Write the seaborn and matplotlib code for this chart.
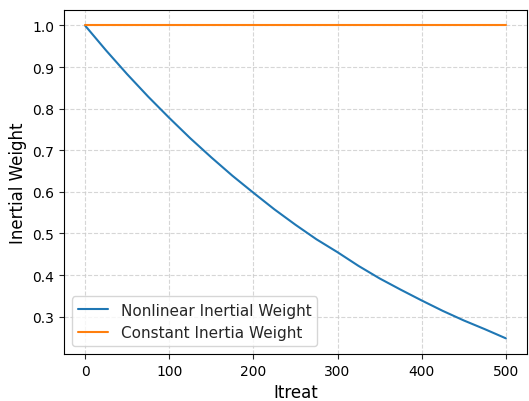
import pandas as pd
import matplotlib
matplotlib.use("Agg")
import matplotlib.pyplot as plt
import seaborn as sns

# valores (cada 25 iteraciones)
iteraciones = [0, 25, 50, 75, 100, 125, 150, 175, 200, 225, 250,
               275, 300, 325, 350, 375, 400, 425, 450, 475, 500]
peso_no_lineal = [1.000, 0.940, 0.883, 0.829, 0.778, 0.729, 0.683, 0.639, 0.598, 0.558, 0.521,
                  0.486, 0.455, 0.422, 0.392, 0.365, 0.339, 0.314, 0.291, 0.270, 0.248]
peso_constante = [1.0] * len(iteraciones)

df = pd.DataFrame({
    "Itreat": iteraciones * 2,
    "Inertial Weight": peso_no_lineal + peso_constante,
    "Serie": ["Nonlinear Inertial Weight"] * len(iteraciones)
             + ["Constant Inertia Weight"] * len(iteraciones),
})

sns.set_style("ticks")
plt.rcParams["font.family"] = ["DejaVu Sans"]

fig = plt.figure(figsize=(5.29, 4.02), dpi=100)
ax = fig.add_axes([0.121, 0.117, 0.875, 0.856])
sns.lineplot(data=df, x="Itreat", y="Inertial Weight", hue="Serie",
             palette=["#1f77b4", "#ff7f0e"], linewidth=1.5, ax=ax)

ax.grid(True, linestyle="--", color="#cccccc", linewidth=0.8, alpha=0.8)
ax.set_xlabel("Itreat", fontsize=12, color="black")
ax.set_ylabel("Inertial Weight", fontsize=12, color="black")
ax.tick_params(labelsize=10, labelcolor="black")
for s in ax.spines.values():
    s.set_color("black")
    s.set_linewidth(0.8)
ax.legend(loc="lower left", fontsize=11, title=None)

fig.savefig("out.png", dpi=100)
